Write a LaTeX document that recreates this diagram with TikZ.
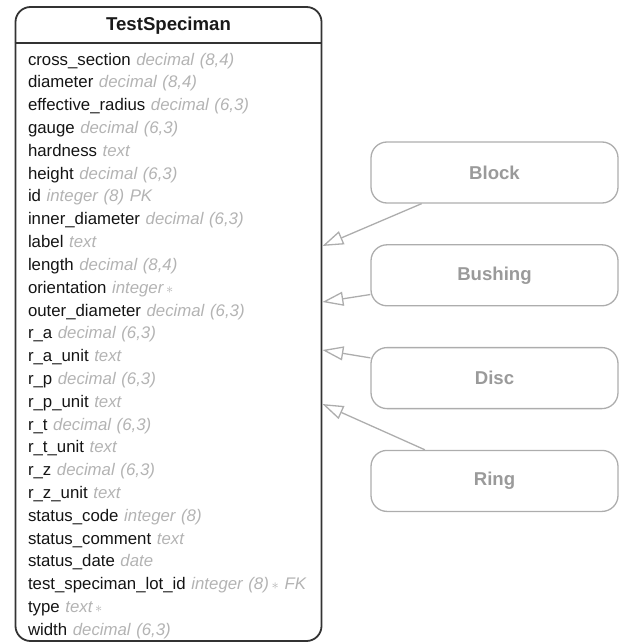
\documentclass[tikz,border=0pt]{standalone}
\usepackage{fontspec}
\setmainfont{Liberation Sans}
\usepackage{xcolor}
\usepackage{tikz}
\usetikzlibrary{arrows.meta, positioning}
\definecolor{framegray}{HTML}{333333}
\definecolor{typegray}{HTML}{B3B3B3}
\definecolor{childgray}{HTML}{ADADAD}
\definecolor{childtext}{HTML}{9A9A9A}
\newcommand{\reqmark}{\,{\fontsize{14}{14}\selectfont$\ast$}}
\newcommand{\attr}[2]{#1 {\color{typegray}\itshape #2}}
\tikzstyle{entity} = [rectangle, draw=framegray, line width=1.8pt, rounded corners=15pt,
    minimum width=306pt, minimum height=634pt]
\tikzstyle{title} = [font=\fontsize{18.6}{22}\selectfont\bfseries, text=black!90, inner sep=0pt, anchor=base]
\tikzstyle{field} = [font=\fontsize{16.8}{20}\selectfont, text=black!92, text width=285pt, align=left,
    inner sep=0pt, text height=13pt, text depth=4.5pt]
\tikzstyle{child} = [rectangle, draw=childgray, line width=1.3pt, rounded corners=16pt,
    minimum width=247pt, minimum height=61pt, font=\fontsize{18.6}{22}\selectfont\bfseries, text=childtext]
\tikzstyle{isa} = [draw=childgray, line width=1.3pt, -{Triangle[open, length=21pt, width=14pt]}]

\begin{document}
\begin{tikzpicture}[x=1pt, y=1pt, node distance=4.9pt]
      \useasboundingbox (0,0) rectangle (620,-644);
      % Table
      \node [entity] (spec) at (168.5,-324) {};
      \node [title] (name) at (168.5,-30.5) {TestSpeciman};
      \draw [draw=framegray, line width=1.8pt] (spec.west |- 0,-43) -- (spec.east |- 0,-43);
      \node [field, anchor=north] (f1) at (170.5,-52) {\attr{cross\_section}{decimal (8,4)}};
      \node [field, below=of f1] (f2) {\attr{diameter}{decimal (8,4)}};
      \node [field, below=of f2] (f3) {\attr{effective\_radius}{decimal (6,3)}};
      \node [field, below=of f3] (f4) {\attr{gauge}{decimal (6,3)}};
      \node [field, below=of f4] (f5) {\attr{hardness}{text}};
      \node [field, below=of f5] (f6) {\attr{height}{decimal (6,3)}};
      \node [field, below=of f6] (f7) {\attr{id}{integer (8) PK}};
      \node [field, below=of f7] (f8) {\attr{inner\_diameter}{decimal (6,3)}};
      \node [field, below=of f8] (f9) {\attr{label}{text}};
      \node [field, below=of f9] (f10) {\attr{length}{decimal (8,4)}};
      \node [field, below=of f10] (f11) {\attr{orientation}{integer\reqmark}};
      \node [field, below=of f11] (f12) {\attr{outer\_diameter}{decimal (6,3)}};
      \node [field, below=of f12] (f13) {\attr{r\_a}{decimal (6,3)}};
      \node [field, below=of f13] (f14) {\attr{r\_a\_unit}{text}};
      \node [field, below=of f14] (f15) {\attr{r\_p}{decimal (6,3)}};
      \node [field, below=of f15] (f16) {\attr{r\_p\_unit}{text}};
      \node [field, below=of f16] (f17) {\attr{r\_t}{decimal (6,3)}};
      \node [field, below=of f17] (f18) {\attr{r\_t\_unit}{text}};
      \node [field, below=of f18] (f19) {\attr{r\_z}{decimal (6,3)}};
      \node [field, below=of f19] (f20) {\attr{r\_z\_unit}{text}};
      \node [field, below=of f20] (f21) {\attr{status\_code}{integer (8)}};
      \node [field, below=of f21] (f22) {\attr{status\_comment}{text}};
      \node [field, below=of f22] (f23) {\attr{status\_date}{date}};
      \node [field, below=of f23] (f24) {\attr{test\_speciman\_lot\_id}{integer (8)\reqmark{} FK}};
      \node [field, below=of f24] (f25) {\attr{type}{text\reqmark}};
      \node [field, below=of f25] (f26) {\attr{width}{decimal (6,3)}};
      % Subtypes
      \node [child] (block) at (494.5,-172.5) {Block};
      \node [child, below=40.5pt of block] (bushing) {Bushing};
      \node [child, below=40.5pt of bushing] (disc) {Disc};
      \node [child, below=40.5pt of disc] (ring) {Ring};
      \coordinate (blocktip) at (spec.east |- 0,-246);
      \coordinate (bushingtip) at (spec.east |- 0,-302);
      \coordinate (disctip) at (spec.east |- 0,-350);
      \coordinate (ringtip) at (spec.east |- 0,-404);
      % Draw edges
      \draw [isa] (block) -- (blocktip);
      \draw [isa] (bushing) -- (bushingtip);
      \draw [isa] (disc) -- (disctip);
      \draw [isa] (ring) -- (ringtip);
\end{tikzpicture}
\end{document}
